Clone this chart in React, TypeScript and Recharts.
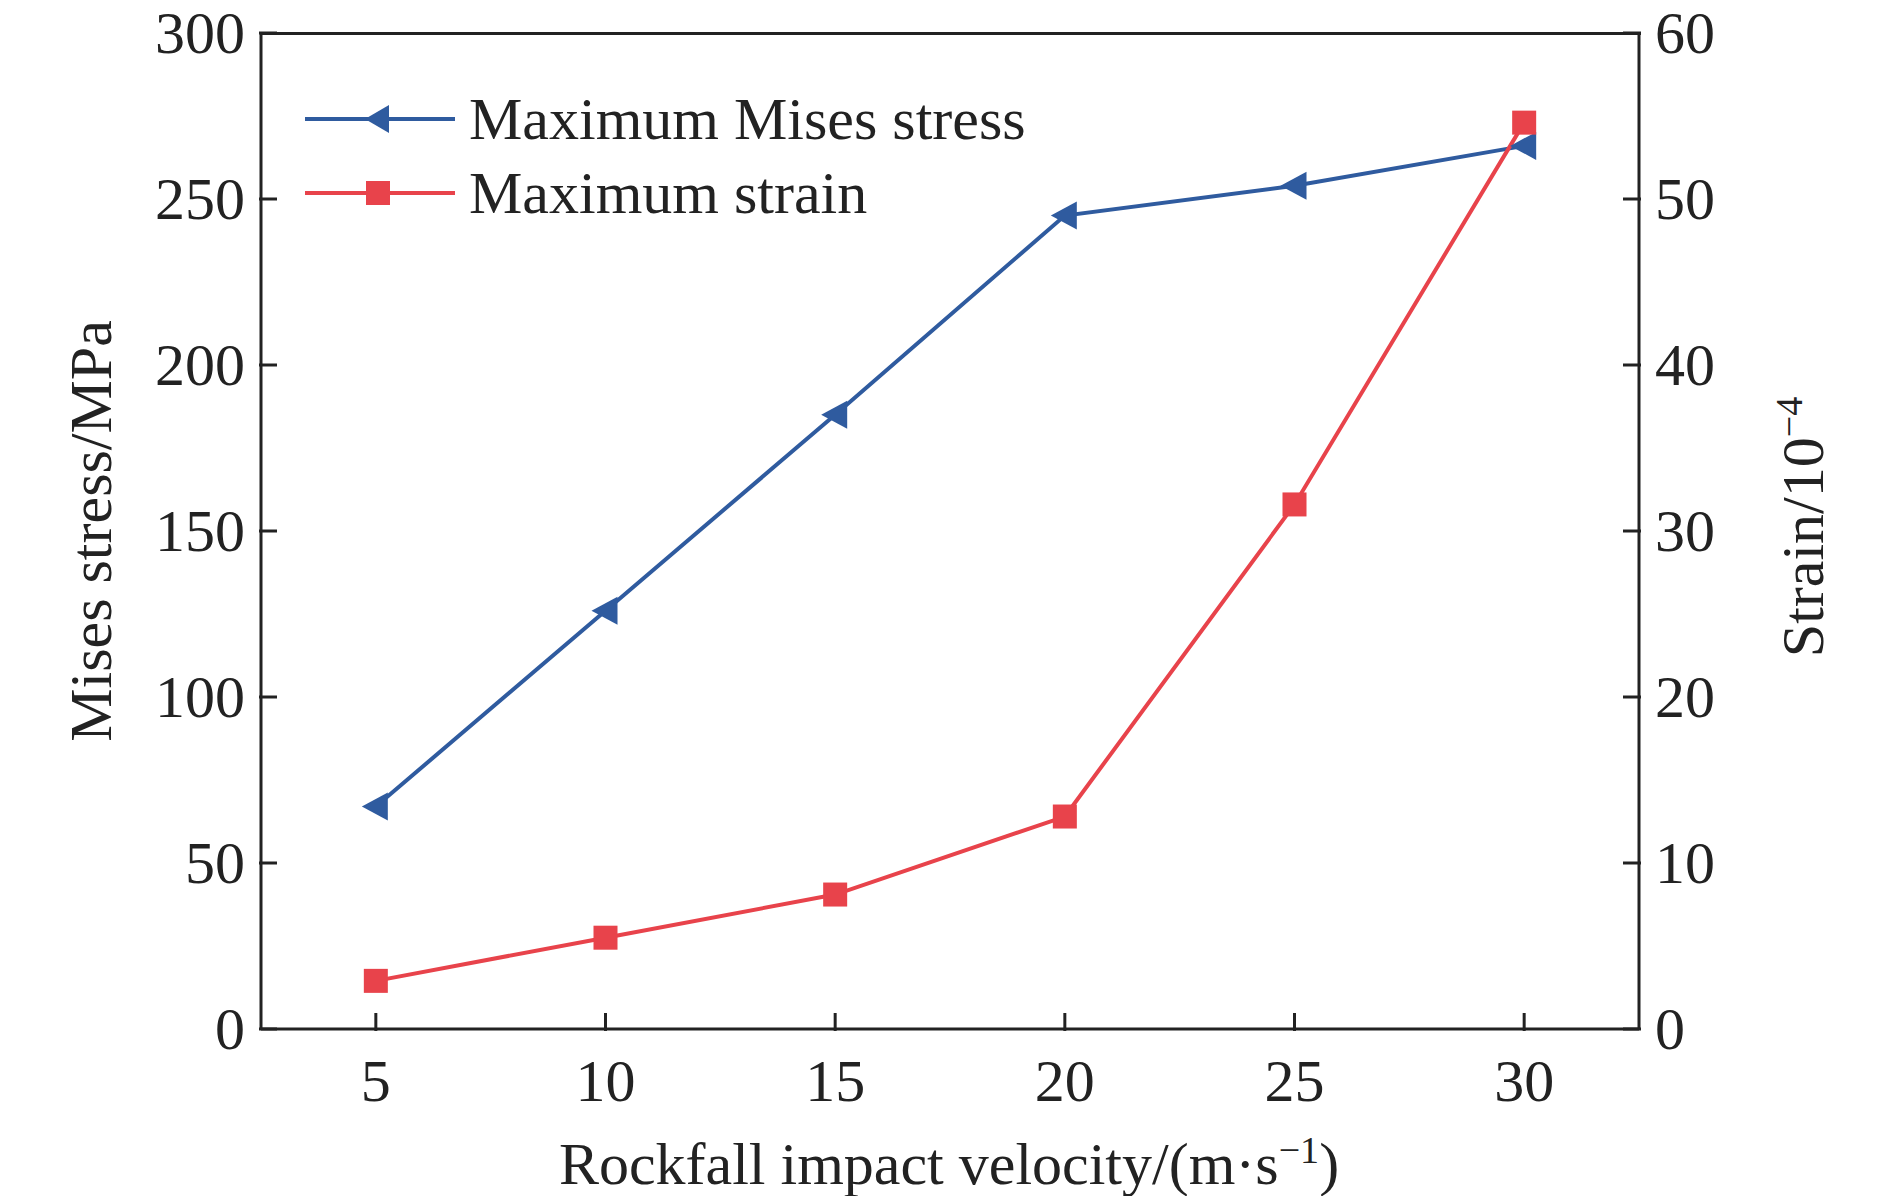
import React from "react";
import { LineChart, Line, XAxis, YAxis } from "recharts";

const velocity = [5, 10, 15, 20, 25, 30];
const misesStress = [67, 126, 185, 245, 254, 266];
const maxStrain = [2.9, 5.5, 8.1, 12.8, 31.6, 54.6];
const stressTicks = [0, 50, 100, 150, 200, 250, 300];
const strainTicks = [0, 10, 20, 30, 40, 50, 60];

const data = velocity.map((v, i) => ({ v, stress: misesStress[i], strain: maxStrain[i] }));

const BLUE = "#2f5b9f";
const RED = "#e8434b";
const FONT = "'Liberation Serif', 'DejaVu Serif', serif";
const FS = 60;

function TickLeft({ x, y, payload }: any) {
  return (
    <g>
      <line x1={x} x2={x + 18} y1={y} y2={y} stroke="#222" strokeWidth={3} />
      <text x={x - 14} y={y} dy={20} textAnchor="end" fontSize={FS} fontFamily={FONT} fill="#222">
        {payload.value}
      </text>
    </g>
  );
}

function TickRight({ x, y, payload }: any) {
  return (
    <g>
      <line x1={x} x2={x - 18} y1={y} y2={y} stroke="#222" strokeWidth={3} />
      <text x={x + 14} y={y} dy={20} textAnchor="start" fontSize={FS} fontFamily={FONT} fill="#222">
        {payload.value}
      </text>
    </g>
  );
}

function TickBottom({ x, y, payload }: any) {
  return (
    <g>
      <line x1={x} x2={x} y1={y} y2={y - 18} stroke="#222" strokeWidth={3} />
      <text x={x} y={y + 70} textAnchor="middle" fontSize={FS} fontFamily={FONT} fill="#222">
        {payload.value}
      </text>
    </g>
  );
}

function LegendBox() {
  const items = [
    { label: "Maximum Mises stress", color: BLUE, shape: "tri" },
    { label: "Maximum strain", color: RED, shape: "sq" },
  ];
  return (
    <svg width={900} height={160} style={{ position: "absolute", left: 305, top: 81, overflow: "visible" }}>
      {items.map((it, i) => {
        const cy = 38 + i * 74;
        return (
          <g key={it.label}>
            <line x1={0} x2={150} y1={cy} y2={cy} stroke={it.color} strokeWidth={4} />
            {it.shape === "tri" ? (
              <polygon points={`60,${cy} 84,${cy - 14} 84,${cy + 14}`} fill={it.color} />
            ) : (
              <rect x={61} y={cy - 12} width={24} height={24} fill={it.color} />
            )}
            <text x={164} y={cy + 20} fontSize={FS} fontFamily={FONT} fill="#222">
              {it.label}
            </text>
          </g>
        );
      })}
    </svg>
  );
}

function TriDot({ cx, cy }: any) {
  return <polygon points={`${cx - 14},${cy} ${cx + 12},${cy - 14} ${cx + 12},${cy + 14}`} fill={BLUE} />;
}

function SqDot({ cx, cy }: any) {
  return <rect x={cx - 12} y={cy - 12} width={24} height={24} fill={RED} />;
}

export default function App() {
  return (
    <div style={{ position: "absolute", left: 0, top: 0, width: 1890, height: 1196, background: "#fff" }}>
      <LineChart width={1890} height={1196} data={data} margin={{ top: 33, right: 101, bottom: 67, left: 121 }}>
        <XAxis
          dataKey="v"
          type="number"
          domain={[2.5, 32.5]}
          ticks={velocity}
          tickLine={false}
          tickSize={0}
          height={100}
          tick={<TickBottom />}
          axisLine={{ stroke: "#222", strokeWidth: 3 }}
        />
        <YAxis
          yAxisId="l"
          domain={[0, 300]}
          ticks={stressTicks}
          width={140}
          tickLine={false}
          tickSize={0}
          tick={<TickLeft />}
          axisLine={{ stroke: "#222", strokeWidth: 3 }}
        />
        <YAxis
          yAxisId="r"
          orientation="right"
          domain={[0, 60]}
          ticks={strainTicks}
          width={150}
          tickLine={false}
          tickSize={0}
          tick={<TickRight />}
          axisLine={{ stroke: "#222", strokeWidth: 3 }}
        />
        <Line yAxisId="l" dataKey="stress" stroke={BLUE} strokeWidth={4} dot={<TriDot />} activeDot={false} isAnimationActive={false} />
        <Line yAxisId="r" dataKey="strain" stroke={RED} strokeWidth={4} dot={<SqDot />} activeDot={false} isAnimationActive={false} />
      </LineChart>
      <div style={{ position: "absolute", left: 260, top: 32, width: 1381, height: 3, background: "#222" }} />
      <LegendBox />
      <div style={{ position: "absolute", left: 91, top: 531, transform: "translate(-50%,-50%) rotate(-90deg)", whiteSpace: "nowrap", fontFamily: FONT, fontSize: FS, color: "#222" }}>
        Mises stress/MPa
      </div>
      <div style={{ position: "absolute", left: 1802, top: 527, transform: "translate(-50%,-50%) rotate(-90deg)", whiteSpace: "nowrap", fontFamily: FONT, fontSize: FS, color: "#222" }}>
        Strain/10<sup style={{ fontSize: 38 }}>−4</sup>
      </div>
      <div style={{ position: "absolute", left: 949, top: 1163, transform: "translate(-50%,-50%)", whiteSpace: "nowrap", fontFamily: FONT, fontSize: FS, color: "#222" }}>
        Rockfall impact velocity/(m·s<sup style={{ fontSize: 38 }}>−1</sup>)
      </div>
    </div>
  );
}
